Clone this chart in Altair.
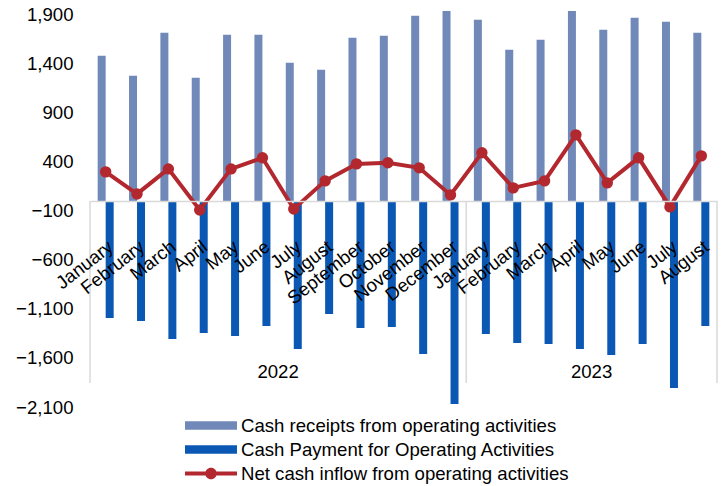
import altair as alt
import pandas as pd

# ---------------- data ----------------
months_2022 = ["January", "February", "March", "April", "May", "June", "July",
               "August", "September", "October", "November", "December"]
months_2023 = ["January", "February", "March", "April", "May", "June", "July", "August"]
year_names = ["2022", "2023"]

receipts = [1480, 1275, 1714, 1255, 1693, 1693, 1408, 1336, 1663, 1683, 1887, 2130,
            1846, 1540, 1642, 2180, 1744, 1867, 1826, 1714]
payments = [-1193, -1224, -1408, -1346, -1377, -1275, -1510, -1153, -1295, -1285, -1560, -2070,
            -1357, -1448, -1459, -1510, -1571, -1459, -1907, -1275]
net = [296, 71, 326, -92, 326, 439, -82, 204, 377, 388, 337, 61,
       490, 133, 204, 673, 184, 439, -61, 459]

series_names = ["Cash receipts from operating activities",
                "Cash Payment for Operating Activities",
                "Net cash inflow from operating activities"]
series_colors = ["#7189B9", "#0B58B4", "#B2282E"]
y_ticks = [-2100, -1600, -1100, -600, -100, 400, 900, 1400, 1900]

# ---------------- tables ----------------
months = months_2022 + months_2023
years = ["2022"] * len(months_2022) + ["2023"] * len(months_2023)
keys = [f"{m} {y}" for m, y in zip(months, years)]

bars_df = pd.DataFrame(
    [{"key": k, "series": series_names[0], "value": v} for k, v in zip(keys, receipts)]
    + [{"key": k, "series": series_names[1], "value": v} for k, v in zip(keys, payments)]
)
net_df = pd.DataFrame({"key": keys, "value": net})

group_rows = []
for yname, mlist in zip(year_names, [months_2022, months_2023]):
    ks = [f"{m} {yname}" for m in mlist]
    group_rows.append({"year": yname, "start": ks[0], "mid": ks[len(ks) // 2], "end": ks[-1]})
groups_df = pd.DataFrame(group_rows)
legend_df = pd.DataFrame({"series": series_names})

FONT = "Liberation Sans"
FS = 18.6
Y_MIN, Y_MAX = -2100, 1935
SEP_BOTTOM = -1855
YEAR_LABEL_Y = -1740

yscale = alt.Scale(domain=[Y_MIN, Y_MAX], nice=False, zero=False)
xscale = alt.Scale(domain=keys, paddingInner=0, paddingOuter=0)

x_axis = alt.Axis(
    title=None, labelExpr="split(datum.label, ' ')[0]", labelAngle=-38,
    labelAlign="right", labelBaseline="middle", labelPadding=43, labelOffset=5,
    ticks=False, tickSize=0, domainColor="#D9D9D9", domainWidth=1.5, offset=-206,
    labelFontSize=FS, labelFont=FONT, labelColor="black", labelOverlap=False, zindex=2,
)
y_axis = alt.Axis(
    title=None, values=y_ticks, labelExpr="format(datum.value, ',')", grid=False,
    domain=False, ticks=False, tickSize=0, labelPadding=17, labelFontSize=FS,
    labelFont=FONT, labelColor="black",
)


def X(field, bp=None):
    if bp is None:
        return alt.X(field, scale=xscale, sort=keys, axis=x_axis)
    return alt.X(field, scale=xscale, sort=keys, axis=x_axis, bandPosition=bp)


def Yd(v):
    return alt.YDatum(v, scale=yscale, axis=y_axis)


bars = alt.Chart(bars_df).mark_bar(clip=True).encode(
    x=X("key:N"),
    xOffset=alt.XOffset("series:N", scale=alt.Scale(domain=series_names[:2], paddingInner=0, paddingOuter=0.96)),
    y=alt.Y("value:Q", scale=yscale, axis=y_axis),
    color=alt.Color("series:N", scale=alt.Scale(domain=series_names[:2], range=series_colors[:2]), legend=None),
)

seps_start = alt.Chart(groups_df).mark_rule(color="#D9D9D9", strokeWidth=1.5).encode(
    x=X("start:N", 0), y=Yd(0), y2=alt.Y2Datum(SEP_BOTTOM),
)
seps_end = alt.Chart(groups_df).transform_filter(
    alt.datum.year == year_names[-1]
).mark_rule(color="#D9D9D9", strokeWidth=1.5).encode(
    x=X("end:N", 1), y=Yd(0), y2=alt.Y2Datum(SEP_BOTTOM),
)
year_text = alt.Chart(groups_df).mark_text(
    fontSize=FS, font=FONT, color="black", baseline="middle", align="center"
).encode(
    x=X("mid:N", 0), y=Yd(YEAR_LABEL_Y), text="year:N",
)

line = alt.Chart(net_df).mark_line(color=series_colors[2], strokeWidth=4).encode(
    x=X("key:N"), y=alt.Y("value:Q", scale=yscale, axis=y_axis),
)
pts = alt.Chart(net_df).mark_point(color=series_colors[2], filled=True, size=130, opacity=1).encode(
    x=X("key:N"), y=alt.Y("value:Q", scale=yscale, axis=y_axis),
)

rect_path = "M-1,-0.36H3.52V0.36H-1Z"
net_path = "M-1,-0.18H3.52V0.18H-1Z M0.76,0 A0.5,0.5 0 1,1 1.76,0 A0.5,0.5 0 1,1 0.76,0 Z"
leg = alt.Legend(
    title=None, orient="none", legendX=95, legendY=403, direction="vertical",
    labelFontSize=FS, labelFont=FONT, labelColor="black", labelLimit=600,
    symbolSize=529, symbolStrokeWidth=0, symbolOpacity=1, labelOffset=33,
    rowPadding=2, padding=0,
)
legend_layer = alt.Chart(legend_df).mark_point(filled=True, opacity=0).encode(
    color=alt.Color("series:N", scale=alt.Scale(domain=series_names, range=series_colors), legend=leg),
    shape=alt.Shape("series:N", scale=alt.Scale(domain=series_names, range=[rect_path, rect_path, net_path]), legend=leg),
)

chart = alt.layer(
    bars, seps_start, seps_end, year_text, line, pts, legend_layer
).resolve_scale(
    color="independent", shape="independent"
).properties(
    width=627, height=396,
    autosize=alt.AutoSizeParams(type="none"),
    padding={"left": 82, "top": 3, "right": 3, "bottom": 77},
).configure(font=FONT).configure_view(stroke=None)

chart.save("out.html", embed_options={"renderer": "svg", "actions": False})
